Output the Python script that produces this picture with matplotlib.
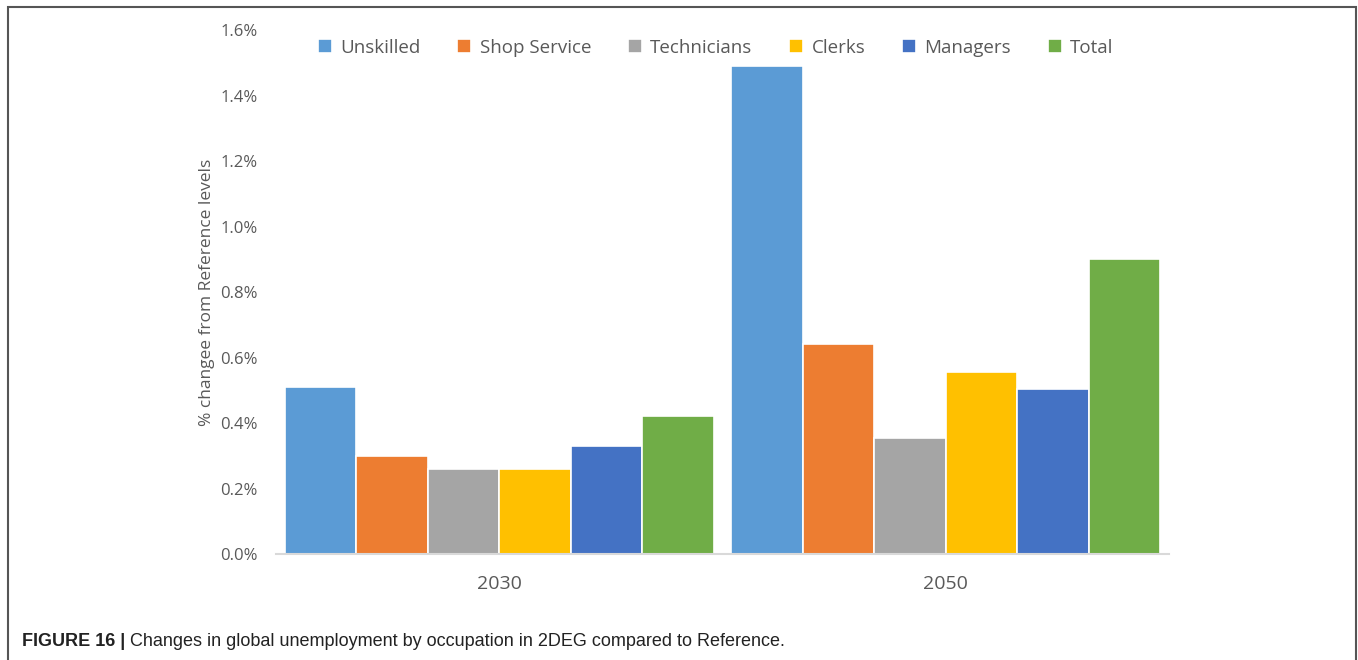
import matplotlib.pyplot as plt
import matplotlib.patches as mpatches
from matplotlib.ticker import FuncFormatter
import numpy as np

# Unemployment change by occupation, % vs Reference
years = ["2030", "2050"]
occupations = ["Unskilled", "Shop Service", "Technicians", "Clerks", "Managers", "Total"]
unskilled = [0.51, 1.49]
shop_service = [0.30, 0.64]
technicians = [0.26, 0.355]
clerks = [0.26, 0.555]
managers = [0.33, 0.505]
total = [0.42, 0.90]

colors = ["#5B9BD5", "#ED7D31", "#A5A5A5", "#FFC000", "#4472C4", "#70AD47"]
series = [unskilled, shop_service, technicians, clerks, managers, total]

plt.rcParams["font.family"] = ["Open Sans", "DejaVu Sans"]

fig = plt.figure(figsize=(13.58, 6.6), dpi=100)
ax = fig.add_axes([0.2032, 0.1606, 0.6576, 0.7939])

x = np.arange(len(years))
bar_w = 0.16
for i, (name, vals, col) in enumerate(zip(occupations, series, colors)):
    offset = (i - 2.5) * bar_w
    ax.bar(x + offset, vals, width=bar_w, color=col, edgecolor="white",
           linewidth=1.2, label=name, zorder=2)

ax.set_xlim(-0.5, 1.5)
ax.set_ylim(0, 1.6)
ax.set_yticks(np.arange(0, 1.61, 0.2))
ax.yaxis.set_major_formatter(FuncFormatter(lambda v, _: f"{v:.1f}%"))
ax.set_xticks(x)
ax.set_xticklabels(years)
ax.tick_params(axis="y", length=0, pad=13, labelsize=12, labelcolor="#595959")
ax.tick_params(axis="x", length=0, pad=15, labelsize=14, labelcolor="#595959")

for side in ["top", "right", "left"]:
    ax.spines[side].set_visible(False)
ax.spines["bottom"].set_color("#D9D9D9")
ax.spines["bottom"].set_linewidth(1.5)

ax.set_ylabel("% changee from Reference levels", fontsize=12.5, color="#595959", labelpad=4)

fig.legend(loc="center", bbox_to_anchor=(0.527, 0.928), ncol=6, frameon=False,
           fontsize=13.5, handlelength=0.75, handleheight=0.75, handletextpad=0.45,
           columnspacing=1.95, labelcolor="#595959")

# frame around the figure panel, open below the image edge
frame = mpatches.Rectangle((8 / 1358, -0.05), 1348 / 1358, 1.05 - 7 / 660,
                           transform=fig.transFigure, fill=False,
                           edgecolor="#555555", linewidth=1.5, clip_on=False)
fig.patches.append(frame)

cap = fig.text(22 / 1358, 1 - 641 / 660, "FIGURE 16 |", fontsize=13,
               fontweight="bold", color="#222222", va="center",
               family="Liberation Sans")
ax.annotate(" Changes in global unemployment by occupation in 2DEG compared to Reference.",
            xy=(1, 0.5), xycoords=cap, va="center", ha="left", fontsize=13,
            color="#222222", family="Liberation Sans", annotation_clip=False)

fig.savefig("out.png", dpi=100)
